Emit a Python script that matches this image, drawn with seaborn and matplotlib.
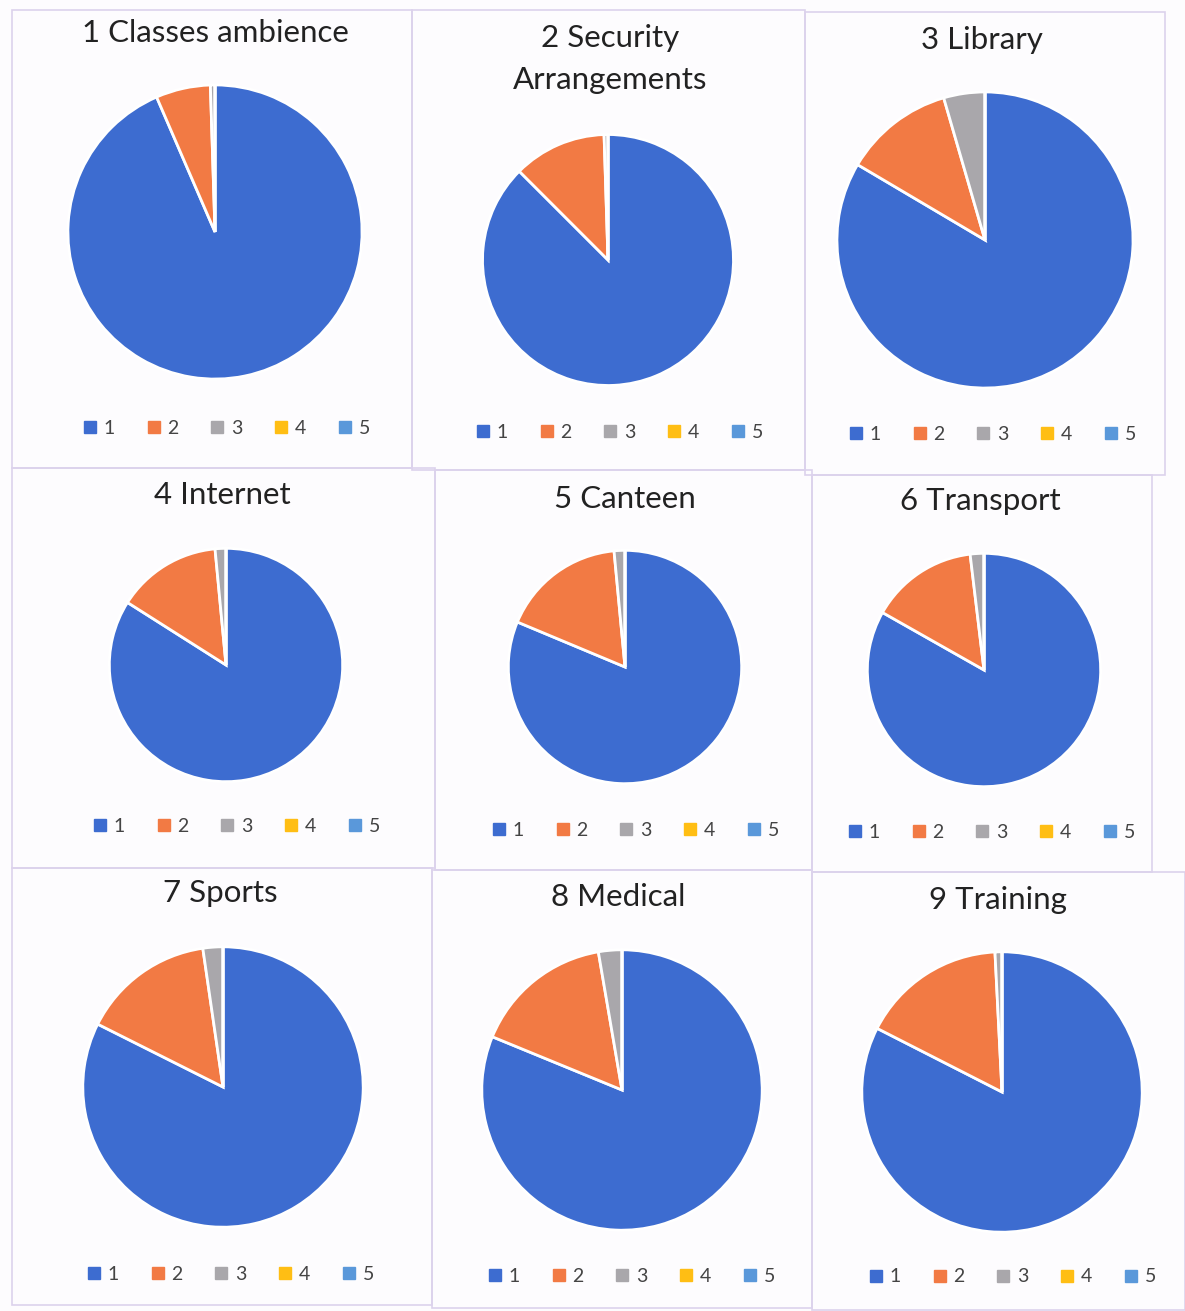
import numpy as np
import matplotlib.pyplot as plt
import seaborn as sns
from matplotlib.patches import Rectangle
from matplotlib.lines import Line2D

# data: percentage share of ratings 1..5 for each facility
titles = ['1 Classes ambience', '2 Security\nArrangements', '3 Library',
          '4 Internet', '5 Canteen', '6 Transport',
          '7 Sports', '8 Medical', '9 Training']
rating_labels = ['1', '2', '3', '4', '5']
classes_ambience = [93.5, 6.0, 0.5, 0, 0]
security = [87.5, 12.0, 0.5, 0, 0]
library = [83.5, 12.0, 4.5, 0, 0]
internet = [84.0, 14.5, 1.5, 0, 0]
canteen = [81.3, 17.2, 1.5, 0, 0]
transport = [83.2, 14.9, 1.9, 0, 0]
sports = [82.4, 15.3, 2.3, 0, 0]
medical = [81.2, 16.1, 2.7, 0, 0]
training = [82.5, 16.7, 0.8, 0, 0]
all_data = [classes_ambience, security, library, internet, canteen,
            transport, sports, medical, training]

sns.set_style('white')
plt.rcParams['font.family'] = ['Lato', 'DejaVu Sans']
colors = sns.color_palette(['#3D6CD0', '#F27A44', '#A9A7AB', '#FFBE14', '#5A98DA'])

W, H = 1185, 1311
fig = plt.figure(figsize=(W / 100, H / 100), dpi=100)
fig.patch.set_facecolor('#FDFCFE')

# layout in pixels (scan of an Excel sheet, cells slightly uneven)
cells = [(12, 10, 412, 468), (412, 10, 805, 470), (805, 12, 1165, 475),
         (12, 468, 435, 868), (435, 470, 812, 870), (812, 475, 1152, 872),
         (12, 868, 432, 1305), (432, 870, 812, 1308), (812, 872, 1185, 1310)]
pie_pos = [(215, 232, 150), (608, 260, 128), (985, 240, 151),
           (226, 665, 119), (625, 667, 119), (984, 670, 119),
           (223, 1087, 143), (622, 1090, 143), (1002, 1092, 143)]
title_pos = [(215, 33), (610, 59), (982, 40),
             (222, 495), (625, 499), (980, 501),
             (220, 893), (618, 897), (998, 900)]
legend_pos = [(226, 428), (619, 432), (992, 434),
              (236, 826), (635, 830), (991, 832),
              (230, 1274), (631, 1276), (1012, 1277)]

for x0, y0, x1, y1 in cells:
    fig.add_artist(Rectangle((x0 / W, 1 - y1 / H), (x1 - x0) / W, (y1 - y0) / H,
                             transform=fig.transFigure, fill=False,
                             edgecolor='#DCD2EC', linewidth=1.2))

handles = [Line2D([], [], marker='s', linestyle='none', markersize=9,
                  markerfacecolor=c, markeredgecolor=c) for c in colors]

for i, vals in enumerate(all_data):
    cx, cy, r = pie_pos[i]
    ax = fig.add_axes([(cx - r) / W, 1 - (cy + r) / H, 2 * r / W, 2 * r / H])
    ax.pie(vals, colors=colors, startangle=90, counterclock=False, radius=1,
           wedgeprops=dict(edgecolor='white', linewidth=2))
    ax.set_xlim(-1.02, 1.02)
    ax.set_ylim(-1.02, 1.02)
    ax.set_aspect('equal')
    ax.axis('off')

    tx, ty = title_pos[i]
    fig.text(tx / W, 1 - ty / H, titles[i], ha='center', va='center',
             fontsize=22.5, color='#222222', linespacing=1.6)

    lx, ly = legend_pos[i]
    fig.legend(handles, rating_labels, loc='center', ncol=5,
               bbox_to_anchor=(lx / W, 1 - ly / H), frameon=False,
               fontsize=14, handlelength=0.8, handletextpad=0.3,
               columnspacing=1.6, labelcolor='#444444')

fig.savefig('out.png', dpi=100)
